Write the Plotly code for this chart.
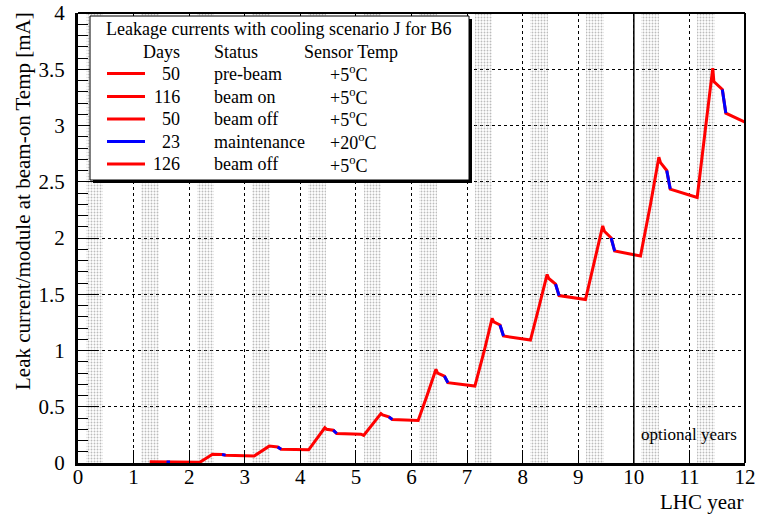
import plotly.graph_objects as go

# ---------------- data ----------------
lhc_year = [1.29, 1.592, 1.655, 2.19, 2.30, 2.42, 2.592, 2.655, 3.17, 3.30, 3.44, 3.592, 3.655,
            4.15, 4.30, 4.44, 4.47, 4.592, 4.655, 5.09, 5.14, 5.30, 5.45, 5.48, 5.592, 5.655,
            6.12, 6.28, 6.44, 6.47, 6.592, 6.655, 7.14, 7.30, 7.45, 7.48, 7.592, 7.655,
            8.14, 8.30, 8.44, 8.47, 8.592, 8.655, 9.13, 9.29, 9.44, 9.47, 9.592, 9.655,
            10.12, 10.30, 10.45, 10.48, 10.592, 10.655, 11.14, 11.30, 11.42, 11.44, 11.592, 11.655, 12.0]
leak_current = [0.012, 0.010, 0.008, 0.006, 0.040, 0.078, 0.075, 0.070, 0.063, 0.105, 0.150, 0.143, 0.122,
                0.117, 0.215, 0.313, 0.300, 0.292, 0.262, 0.256, 0.246, 0.350, 0.440, 0.428, 0.410, 0.387,
                0.378, 0.600, 0.833, 0.800, 0.773, 0.714, 0.684, 0.980, 1.286, 1.255, 1.227, 1.129,
                1.093, 1.400, 1.676, 1.640, 1.590, 1.488, 1.453, 1.790, 2.107, 2.060, 2.000, 1.884,
                1.840, 2.300, 2.718, 2.670, 2.600, 2.435, 2.360, 3.020, 3.510, 3.390, 3.320, 3.110, 3.030]
# maintenance (+20 C) periods: start / end of each (blue segments)
maint_start = [1.592, 2.592, 3.592, 4.592, 5.592, 6.592, 7.592, 8.592, 9.592, 10.592, 11.592]
maint_end = [1.655, 2.655, 3.655, 4.655, 5.655, 6.655, 7.655, 8.655, 9.655, 10.655, 11.655]

# yearly schedule (days)
phase_days = [50, 116, 50, 23, 126]
phase_status = ["pre-beam", "beam on", "beam off", "maintenance", "beam off"]
phase_temp = ["+5", "+5", "+5", "+20", "+5"]
phase_color = ["red", "red", "red", "blue", "red"]
years = list(range(0, 12))

x_ticks = list(range(0, 13))
y_ticks = [0, 0.5, 1, 1.5, 2, 2.5, 3, 3.5, 4]

FONT = "Liberation Serif, Times New Roman, serif"

fig = go.Figure()

# beam-on shaded bands
beam_on_start = sum(phase_days[:1]) / 365.0
beam_on_end = sum(phase_days[:2]) / 365.0
fig.add_trace(go.Bar(
    x=[y + (beam_on_start + beam_on_end) / 2 for y in years],
    y=[4] * len(years),
    width=[beam_on_end - beam_on_start] * len(years),
    marker=dict(color="rgba(0,0,0,0)", line=dict(width=0),
                pattern=dict(shape=".", fgcolor="#7a7a7a", bgcolor="rgba(0,0,0,0)",
                             size=3, solidity=0.3)),
    showlegend=False, hoverinfo="skip"))

# curve (red) and maintenance segments (blue)
fig.add_trace(go.Scatter(x=lhc_year, y=leak_current, mode="lines",
                         line=dict(color="#ff0000", width=3), showlegend=False))
bx, by = [], []
for s, e in zip(maint_start, maint_end):
    i0 = lhc_year.index(s)
    i1 = lhc_year.index(e)
    bx += lhc_year[i0:i1 + 1] + [None]
    by += leak_current[i0:i1 + 1] + [None]
fig.add_trace(go.Scatter(x=bx, y=by, mode="lines",
                         line=dict(color="#0000ff", width=3), showlegend=False))

# ---------------- layout ----------------
L, R, T, B = 78, 15, 13, 52
W, H = 760 - L - R, 515 - T - B


def px(xp):
    return (xp - L) / W


def py(yp):
    return (T + H - yp) / H


shapes = []
# frame top/right
shapes.append(dict(type="line", xref="paper", yref="paper", x0=0, x1=1, y0=1, y1=1,
                   line=dict(color="black", width=2), layer="above"))
shapes.append(dict(type="line", xref="paper", yref="paper", x0=1, x1=1, y0=0, y1=1,
                   line=dict(color="black", width=2), layer="above"))
# optional years divider
shapes.append(dict(type="line", xref="x", yref="y", x0=10, x1=10, y0=0, y1=4,
                   line=dict(color="black", width=1.5), layer="above"))
# legend box with shadow
shapes.append(dict(type="rect", xref="paper", yref="paper", x0=px(93), x1=px(472), y0=py(183), y1=py(19),
                   fillcolor="black", line=dict(width=0), layer="above"))
shapes.append(dict(type="rect", xref="paper", yref="paper", x0=px(90), x1=px(469), y0=py(180), y1=py(16),
                   fillcolor="white", line=dict(color="black", width=1), layer="above"))

annotations = []
fs = 18
annotations.append(dict(xref="paper", yref="paper", x=px(278), y=py(28.5), xanchor="center", yanchor="middle",
                        text="Leakage currents with cooling scenario J for B6", showarrow=False,
                        font=dict(family=FONT, size=fs, color="black")))
annotations.append(dict(xref="paper", yref="paper", x=px(182), y=py(52), xanchor="right", yanchor="middle",
                        text="Days", showarrow=False, font=dict(family=FONT, size=fs, color="black")))
annotations.append(dict(xref="paper", yref="paper", x=px(212), y=py(52), xanchor="left", yanchor="middle",
                        text="Status", showarrow=False, font=dict(family=FONT, size=fs, color="black")))
annotations.append(dict(xref="paper", yref="paper", x=px(302), y=py(52), xanchor="left", yanchor="middle",
                        text="Sensor Temp", showarrow=False, font=dict(family=FONT, size=fs, color="black")))
row_y = [73.5, 96.5, 119, 141.5, 164]
for k in range(len(phase_days)):
    yy = py(row_y[k])
    shapes.append(dict(type="line", xref="paper", yref="paper", x0=px(107), x1=px(145), y0=yy, y1=yy,
                       line=dict(color=phase_color[k], width=3), layer="above"))
    annotations.append(dict(xref="paper", yref="paper", x=px(182), y=yy, xanchor="right", yanchor="middle",
                            text=str(phase_days[k]), showarrow=False,
                            font=dict(family=FONT, size=fs, color="black")))
    annotations.append(dict(xref="paper", yref="paper", x=px(212), y=yy, xanchor="left", yanchor="middle",
                            text=phase_status[k], showarrow=False,
                            font=dict(family=FONT, size=fs, color="black")))
    annotations.append(dict(xref="paper", yref="paper", x=px(328), y=yy, xanchor="left", yanchor="middle",
                            text=phase_temp[k] + "<sup>o</sup>C", showarrow=False,
                            font=dict(family=FONT, size=fs, color="black")))

# axis titles
annotations.append(dict(xref="paper", yref="paper", x=1, y=py(502), xanchor="right", yanchor="middle",
                        text="LHC year", showarrow=False, font=dict(family=FONT, size=21, color="black")))
annotations.append(dict(xref="paper", yref="paper", x=px(23), y=py(10), xanchor="center", yanchor="top",
                        textangle=-90, text="Leak current/module at beam-on Temp [mA]", showarrow=False,
                        font=dict(family=FONT, size=21, color="black")))
annotations.append(dict(xref="x", yref="y", x=11.0, y=0.255, xanchor="center", yanchor="middle",
                        text="optional years", showarrow=False, font=dict(family=FONT, size=17, color="black")))

fig.update_layout(
    width=760, height=515,
    margin=dict(l=L, r=R, t=T, b=B, pad=0, autoexpand=False),
    paper_bgcolor="white", plot_bgcolor="white",
    barmode="overlay", bargap=0,
    showlegend=False,
    font=dict(family=FONT, size=21, color="black"),
    shapes=shapes, annotations=annotations,
    xaxis=dict(range=[0, 12], tickvals=x_ticks, ticktext=[str(v) for v in x_ticks],
               automargin=False,
               ticks="inside", ticklen=13, tickwidth=1, tickcolor="black",
               showline=True, linecolor="black", linewidth=3, mirror=False,
               showgrid=True, gridcolor="black", griddash="dot", gridwidth=1,
               zeroline=False, tickfont=dict(family=FONT, size=21, color="black"),
               ticklabelstandoff=-7),
    yaxis=dict(range=[0, 4], tickvals=y_ticks, ticktext=[f"{v:g}" for v in y_ticks],
               automargin=False,
               ticks="inside", ticklen=20, tickwidth=1, tickcolor="black",
               minor=dict(dtick=0.1, ticks="inside", ticklen=10, tickwidth=1, tickcolor="black", showgrid=False),
               showline=True, linecolor="black", linewidth=3, mirror=False,
               showgrid=True, gridcolor="black", griddash="dot", gridwidth=1,
               zeroline=False, tickfont=dict(family=FONT, size=21, color="black"),
               ticklabelstandoff=6),
)

fig.write_html("out.html")
